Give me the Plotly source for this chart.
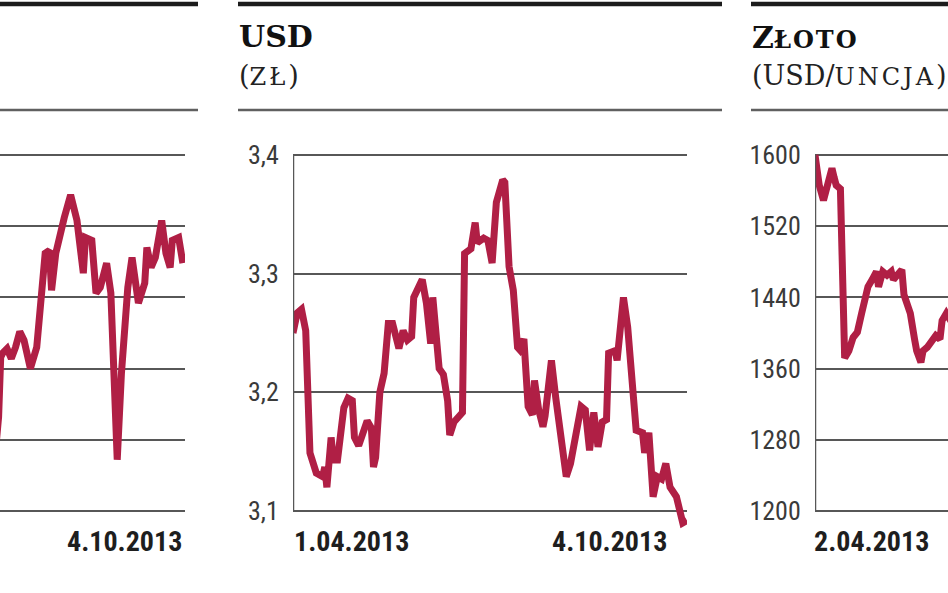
import datetime as dt
import plotly.graph_objects as go

# ---------------- data ----------------
# left panel (axis labels cut off in the reference; only the tail is visible)
left_dates = ["2013-07-04", "2013-07-06", "2013-07-08", "2013-07-09", "2013-07-10", "2013-07-12", "2013-07-14",
              "2013-07-16", "2013-07-18", "2013-07-20", "2013-07-23", "2013-07-26", "2013-07-28",
              "2013-07-30", "2013-08-01", "2013-08-02", "2013-08-04", "2013-08-06", "2013-08-08",
              "2013-08-11", "2013-08-13", "2013-08-14", "2013-08-17", "2013-08-18", "2013-08-21",
              "2013-08-23", "2013-08-25", "2013-08-28", "2013-08-30", "2013-09-02", "2013-09-04",
              "2013-09-07", "2013-09-09", "2013-09-12", "2013-09-15", "2013-09-16", "2013-09-18",
              "2013-09-20", "2013-09-23", "2013-09-25", "2013-09-27", "2013-09-28", "2013-10-01",
              "2013-10-03"]
left_values = [4.10, 4.13, 4.166, 4.208, 4.211, 4.214, 4.207,
               4.215, 4.226, 4.220, 4.200, 4.215, 4.243,
               4.281, 4.283, 4.255, 4.281, 4.295, 4.306,
               4.322, 4.311, 4.304, 4.267, 4.292, 4.290,
               4.253, 4.257, 4.274, 4.253, 4.136, 4.197,
               4.257, 4.278, 4.246, 4.260, 4.285, 4.271,
               4.278, 4.304, 4.281, 4.271, 4.290, 4.292,
               4.274]
left_grid = [4.10, 4.15, 4.20, 4.25, 4.30, 4.35]
left_xlabels = ["4.10.2013"]
left_xdates = ["2013-10-04"]

# middle panel: USD (zł)
usd_dates = ["2013-04-01", "2013-04-03", "2013-04-05", "2013-04-07", "2013-04-09", "2013-04-12", "2013-04-15",
             "2013-04-16", "2013-04-17", "2013-04-19", "2013-04-20", "2013-04-22", "2013-04-25", "2013-04-27",
             "2013-04-29", "2013-04-30",
             "2013-05-02", "2013-05-04", "2013-05-06", "2013-05-08", "2013-05-09", "2013-05-10", "2013-05-12",
             "2013-05-14", "2013-05-16", "2013-05-18", "2013-05-20", "2013-05-21", "2013-05-23", "2013-05-25",
             "2013-05-27", "2013-05-28",
             "2013-06-01", "2013-06-03", "2013-06-05", "2013-06-06", "2013-06-08", "2013-06-09", "2013-06-11",
             "2013-06-13", "2013-06-14", "2013-06-16", "2013-06-18", "2013-06-20", "2013-06-21", "2013-06-24",
             "2013-06-26", "2013-06-27", "2013-06-30",
             "2013-07-02", "2013-07-04", "2013-07-06", "2013-07-09", "2013-07-10", "2013-07-12", "2013-07-14",
             "2013-07-16", "2013-07-17", "2013-07-19", "2013-07-21", "2013-07-23", "2013-07-24", "2013-07-26",
             "2013-07-28", "2013-07-29",
             "2013-08-01", "2013-08-03", "2013-08-05", "2013-08-08", "2013-08-10", "2013-08-15", "2013-08-17",
             "2013-08-19", "2013-08-21", "2013-08-23", "2013-08-25", "2013-08-27", "2013-08-28", "2013-08-31",
             "2013-09-01", "2013-09-02", "2013-09-04", "2013-09-06", "2013-09-07", "2013-09-10", "2013-09-13",
             "2013-09-14", "2013-09-16", "2013-09-18", "2013-09-20", "2013-09-22", "2013-09-24", "2013-09-26",
             "2013-09-29",
             "2013-10-02", "2013-10-04"]
usd_values = [3.25, 3.267, 3.27, 3.252, 3.149, 3.132, 3.129, 3.137, 3.12, 3.162, 3.143, 3.143, 3.187, 3.195,
              3.193, 3.162,
              3.155, 3.165, 3.176, 3.17, 3.137, 3.145, 3.2, 3.216, 3.258, 3.258, 3.245, 3.237, 3.252, 3.244,
              3.247, 3.28,
              3.295, 3.275, 3.241, 3.28, 3.24, 3.22, 3.215, 3.193, 3.164, 3.175, 3.179, 3.183, 3.317, 3.321,
              3.343, 3.326, 3.33,
              3.328, 3.309, 3.36, 3.379, 3.377, 3.306, 3.286, 3.238, 3.236, 3.245, 3.188, 3.181, 3.21, 3.185,
              3.171, 3.18,
              3.227, 3.196, 3.166, 3.129, 3.14, 3.188, 3.185, 3.151, 3.183, 3.154, 3.175, 3.177, 3.233, 3.235,
              3.227, 3.25, 3.28, 3.255, 3.23, 3.168, 3.166, 3.149, 3.166, 3.112, 3.129, 3.127, 3.14, 3.12,
              3.112,
              3.09, 3.092]
usd_grid = [3.1, 3.2, 3.3, 3.4]
usd_ticktext = ["3,1", "3,2", "3,3", "3,4"]
usd_xlabels = ["1.04.2013", "4.10.2013"]
usd_xdates = ["2013-04-01", "2013-10-04"]

# right panel: Złoto (USD/uncja)
gold_dates = ["2013-04-02", "2013-04-03", "2013-04-04", "2013-04-06", "2013-04-08", "2013-04-10", "2013-04-11",
              "2013-04-12", "2013-04-14", "2013-04-16", "2013-04-17", "2013-04-18", "2013-04-20", "2013-04-22",
              "2013-04-24", "2013-04-25", "2013-04-27", "2013-04-29", "2013-05-01", "2013-05-02", "2013-05-04",
              "2013-05-06", "2013-05-08", "2013-05-09", "2013-05-11", "2013-05-13", "2013-05-14", "2013-05-15",
              "2013-05-17", "2013-05-19", "2013-05-20", "2013-05-22", "2013-05-23", "2013-05-25", "2013-05-27",
              "2013-05-29", "2013-05-31", "2013-06-01", "2013-06-03", "2013-06-06", "2013-06-10", "2013-06-14",
              "2013-06-20", "2013-06-27", "2013-07-05", "2013-07-12", "2013-07-22", "2013-08-01", "2013-08-12",
              "2013-08-20", "2013-08-27", "2013-09-05", "2013-09-12", "2013-09-19", "2013-09-26", "2013-10-04"]
gold_values = [1600, 1579, 1566, 1549, 1566, 1585, 1575,
               1566, 1562, 1372, 1376, 1380, 1395, 1401,
               1422, 1431, 1452, 1460, 1469, 1452, 1469,
               1465, 1469, 1460, 1465, 1471, 1443, 1435,
               1422, 1393, 1380, 1367, 1380, 1384, 1390,
               1397, 1393, 1414, 1422, 1410, 1385, 1390,
               1290, 1210, 1225, 1285, 1335, 1310, 1335,
               1370, 1415, 1370, 1330, 1365, 1325, 1310]
gold_grid = [1200, 1280, 1360, 1440, 1520, 1600]
gold_ticktext = ["1200", "1280", "1360", "1440", "1520", "1600"]
gold_xlabels = ["2.04.2013"]
gold_xdates = ["2013-04-02"]

# panel headings: (main word, small-caps part) and (unit prefix, small-caps unit)
title_usd = ("USD", "")
title_gold = ("Z", "łoto")
unit_usd = ("", "zł")
unit_gold = ("USD/", "uncja")

# ---------------- layout helpers ----------------
W, H = 948, 593
LINE = "#b01f45"
GRID = "#575757"
TICKFONT = "Liberation Sans Narrow, Roboto Condensed, DejaVu Sans Condensed, Roboto, sans-serif"
SERIF = "DejaVu Serif, Liberation Serif, serif"

GRID_TOP, GRID_BOT = 155, 511        # pixel rows of top / bottom gridline
DOM_TOP, DOM_BOT = 143, 535          # pixel rows of the plot area
ydom = [1 - DOM_BOT / H, 1 - DOM_TOP / H]


def yrange(grid):
    lo, hi = min(grid), max(grid)
    u = (hi - lo) / (GRID_BOT - GRID_TOP)
    return [lo - (DOM_BOT - GRID_BOT) * u, hi + (GRID_TOP - DOM_TOP) * u]


def px(x):
    return x / W


SPAN_DAYS = 186            # 1.04 -> 4.10 drawn over 394 px
SPAN_PX = 394
PER_PX = SPAN_DAYS / SPAN_PX


def shift(date, days):
    d = dt.datetime.fromisoformat(date) + dt.timedelta(days=days)
    return d.isoformat()


fig = go.Figure()
for xs, ys, xa, ya in [(left_dates, left_values, "x", "y"),
                       (usd_dates, usd_values, "x2", "y2"),
                       (gold_dates, gold_values, "x3", "y3")]:
    fig.add_trace(go.Scatter(x=xs, y=ys, mode="lines", xaxis=xa, yaxis=ya,
                             line=dict(color=LINE, width=7, shape="linear"), hoverinfo="skip"))

left_x0, left_x1 = 0, 185
mid_x0, mid_x1 = 293, 687
right_x0 = 815

xcommon = dict(type="date", showgrid=False, zeroline=False, showline=False, showticklabels=False,
               fixedrange=True, automargin=False)
ycommon = dict(showgrid=True, gridcolor=GRID, gridwidth=2, zeroline=False, showline=False,
               domain=ydom, fixedrange=True, ticks="outside", ticklen=8, tickcolor="rgba(0,0,0,0)",
               automargin=False,
               tickfont=dict(family=TICKFONT, size=26, color="#3a3a3a"))

fig.update_layout(
    template="none",
    width=W, height=H, margin=dict(l=0, r=0, t=0, b=0, autoexpand=False),
    paper_bgcolor="white", plot_bgcolor="white", showlegend=False,
    xaxis=dict(xcommon, domain=[px(left_x0), px(left_x1)],
               range=[shift(left_xdates[0], -(left_x1 - left_x0) * PER_PX), left_xdates[0]]),
    yaxis=dict(ycommon, anchor="x", range=yrange(left_grid), tickvals=left_grid, showticklabels=False),
    xaxis2=dict(xcommon, domain=[px(mid_x0), px(mid_x1)], range=[usd_xdates[0], usd_xdates[1]]),
    yaxis2=dict(ycommon, anchor="x2", range=yrange(usd_grid), tickvals=usd_grid, ticktext=usd_ticktext),
    xaxis3=dict(xcommon, domain=[px(right_x0), 1],
                range=[gold_xdates[0], shift(gold_xdates[0], (W - right_x0) * PER_PX)]),
    yaxis3=dict(ycommon, anchor="x3", range=yrange(gold_grid), tickvals=gold_grid, ticktext=gold_ticktext),
)

shapes = []
# header rules (thick top rule and thin separator) for each panel
for x0, x1 in [(0, 198), (238, 722), (751, W)]:
    shapes.append(dict(type="line", xref="paper", yref="paper", x0=px(x0), x1=px(x1),
                       y0=1 - 4 / H, y1=1 - 4 / H, line=dict(color="#1c1c1c", width=4.5)))
    shapes.append(dict(type="line", xref="paper", yref="paper", x0=px(x0), x1=px(x1),
                       y0=1 - 110 / H, y1=1 - 110 / H, line=dict(color="#606060", width=2.5)))
# vertical value axes
shapes.append(dict(type="line", xref="x2", yref="y2", x0=usd_xdates[0], x1=usd_xdates[0],
                   y0=min(usd_grid), y1=max(usd_grid), line=dict(color=GRID, width=2.5)))
shapes.append(dict(type="line", xref="x3", yref="y3", x0=gold_xdates[0], x1=gold_xdates[0],
                   y0=min(gold_grid), y1=max(gold_grid), line=dict(color=GRID, width=2.5)))
fig.update_layout(shapes=shapes)

ann = []
label_y = 1 - 541 / H
datefont = dict(family=TICKFONT, size=28, color="#1e1e1e", weight="bold")
ann.append(dict(xref="x", yref="paper", x=left_xdates[0], y=label_y, text=left_xlabels[0],
                xanchor="right", yanchor="middle", showarrow=False, font=datefont, xshift=-1))
ann.append(dict(xref="x2", yref="paper", x=usd_xdates[0], y=label_y, text=usd_xlabels[0],
                xanchor="left", yanchor="middle", showarrow=False, font=datefont, xshift=-1))
ann.append(dict(xref="x2", yref="paper", x=usd_xdates[1], y=label_y, text=usd_xlabels[1],
                xanchor="right", yanchor="middle", showarrow=False, font=datefont, xshift=-18))
ann.append(dict(xref="x3", yref="paper", x=gold_xdates[0], y=label_y, text=gold_xlabels[0],
                xanchor="left", yanchor="middle", showarrow=False, font=datefont, xshift=-3))


def smallcaps(s, size, spacing):
    if not s:
        return ""
    return ("<span style='font-variant:small-caps;font-size:%dpx;letter-spacing:%dpx'>" % (size, spacing)) \
        + s + "</span>"


headings = [(title_usd, unit_usd, 237), (title_gold, unit_gold, 750)]
for (main, sc), (pre, unit), x in headings:
    ann.append(dict(xref="paper", yref="paper", x=px(x), y=1 - 36 / H,
                    text="<b>" + main + smallcaps(sc, 34, 2) + "</b>",
                    xanchor="left", yanchor="middle", showarrow=False,
                    font=dict(family=SERIF, size=30, color="#111111")))
    ann.append(dict(xref="paper", yref="paper", x=px(x), y=1 - 73 / H,
                    text="(" + pre + smallcaps(unit, 34, 3) + ")",
                    xanchor="left", yanchor="middle", showarrow=False,
                    font=dict(family=SERIF, size=27, color="#222222")))
fig.update_layout(annotations=ann)

fig.write_html("out.html", config={"displayModeBar": False, "staticPlot": True},
               post_script="document.body.style.margin='0';")
